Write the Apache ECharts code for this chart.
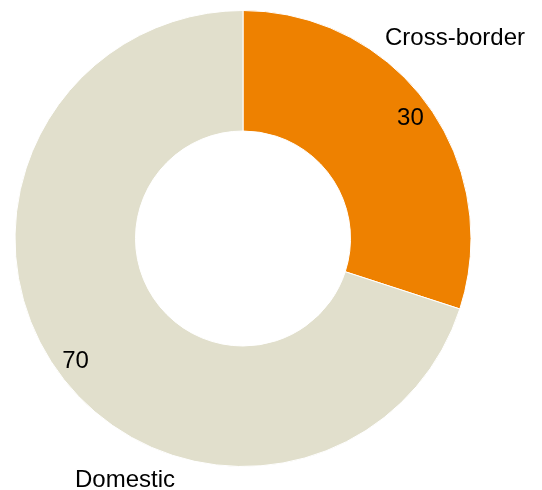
<!DOCTYPE html>
<html><head><meta charset="utf-8">
<script src="https://cdn.jsdelivr.net/npm/echarts@6/dist/echarts.min.js"></script>
<style>html,body{margin:0;padding:0;background:#fff}#c{width:542px;height:490px}</style>
</head><body><div id="c"></div>
<script>
const categories = ['Cross-border', 'Domestic'];
const values = [30, 70];
const colors = ['#EE8100', '#E1DFCC'];

const data = categories.map((n, i) => ({ name: n, value: values[i], itemStyle: { color: colors[i] } }));
const font = 'Liberation Sans, Arial, sans-serif';
const chart = echarts.init(document.getElementById('c'), null, { renderer: 'canvas' });
chart.setOption({
  animation: false,
  series: [
    {
      type: 'pie', center: [243, 238.5], radius: [107.5, 228], startAngle: 90, clockwise: true,
      silent: true, label: { show: false }, labelLine: { show: false },
      itemStyle: { borderColor: '#fff', borderWidth: 1 },
      data: data
    },
    {
      type: 'pie', center: [243, 240], radius: [180, 228], startAngle: 90, clockwise: true,
      silent: true, labelLine: { show: false },
      itemStyle: { color: 'transparent' },
      label: { show: true, position: 'inside', formatter: '{c}', color: '#000', fontSize: 24, fontFamily: font },
      data: categories.map((n, i) => ({ name: n, value: values[i] }))
    }
  ],
  graphic: [
    { type: 'text', left: 385, top: 38.5 - 12, style: { text: categories[0], font: '24px ' + font, fill: '#000' } },
    { type: 'text', left: 75, top: 480 - 12, style: { text: categories[1], font: '24px ' + font, fill: '#000' } }
  ]
});
</script></body></html>
